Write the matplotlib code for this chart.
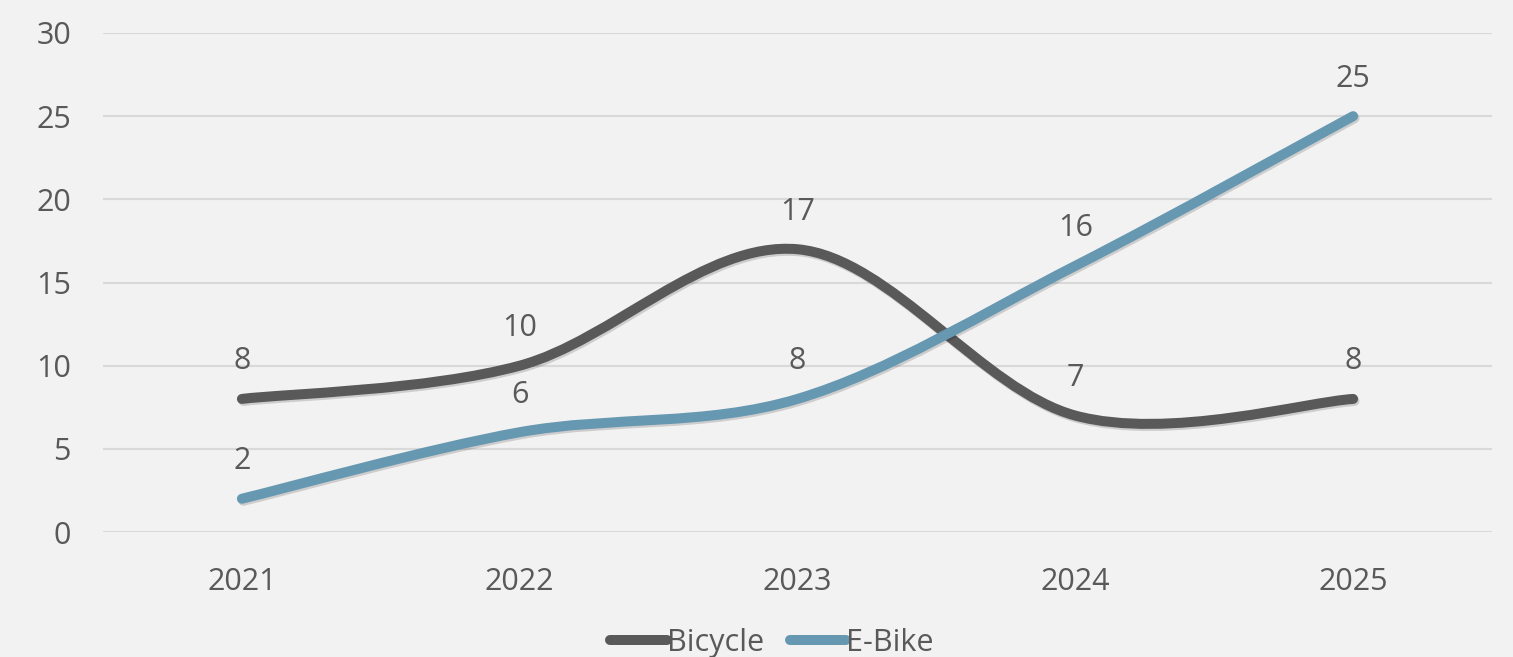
import matplotlib
matplotlib.use("Agg")
import matplotlib.pyplot as plt
import matplotlib.patheffects as pe
from matplotlib.path import Path
from matplotlib.patches import PathPatch
from matplotlib.lines import Line2D
import numpy as np

years = ["2021", "2022", "2023", "2024", "2025"]
bicycle = [8, 10, 17, 7, 8]
ebike = [2, 6, 8, 16, 25]

c_bike = "#595959"
c_ebike = "#6798B1"
c_text = "#595959"

plt.rcParams["font.family"] = ["Open Sans", "DejaVu Sans"]

fig = plt.figure(figsize=(15.13, 6.57), dpi=100, facecolor="#F2F2F2")
ax = fig.add_axes([103 / 1513, 125 / 657, (1492 - 103) / 1513, (532 - 33) / 657])
ax.set_facecolor("#F2F2F2")


def smooth_path(ys):
    # excel style smoothed line: cubic bezier through points
    xs = np.arange(len(ys), dtype=float)
    ys = np.asarray(ys, dtype=float)
    pts = np.column_stack([xs, ys])
    verts = [pts[0]]
    codes = [Path.MOVETO]
    n = len(pts)
    for i in range(n - 1):
        p0 = pts[max(i - 1, 0)]
        p1 = pts[i]
        p2 = pts[i + 1]
        p3 = pts[min(i + 2, n - 1)]
        c1 = p1 + (p2 - p0) / 6
        c2 = p2 - (p3 - p1) / 6
        verts += [c1, c2, p2]
        codes += [Path.CURVE4] * 3
    return Path(verts, codes)


shadow = [pe.SimpleLineShadow(offset=(1, -1.5), shadow_color="black", alpha=0.15), pe.Normal()]
for ys, col in [(bicycle, c_bike), (ebike, c_ebike)]:
    patch = PathPatch(smooth_path(ys), fill=False, edgecolor=col, lw=7.2,
                      capstyle="round", joinstyle="round", zorder=3)
    patch.set_path_effects(shadow)
    ax.add_patch(patch)
    for i, v in enumerate(ys):
        ax.annotate(str(v), (i, v), xytext=(0, 27), textcoords="offset points",
                    ha="center", va="center", fontsize=22, color=c_text, zorder=4)

ax.set_xlim(-0.5, 4.5)
ax.set_ylim(0, 30)
ax.set_yticks(range(0, 31, 5))
ax.set_xticks(range(len(years)))
ax.set_xticklabels(years)
ax.grid(axis="y", color="#D9D9D9", lw=1.5)
ax.set_axisbelow(True)
for s in ax.spines.values():
    s.set_visible(False)
ax.tick_params(length=0, labelsize=22, colors=c_text)
ax.tick_params(axis="y", pad=23)
ax.tick_params(axis="x", pad=25)

handles = [Line2D([], [], color=c_bike, lw=7.2, solid_capstyle="round"),
           Line2D([], [], color=c_ebike, lw=7.2, solid_capstyle="round")]
fig.legend(handles, ["Bicycle", "E-Bike"], loc="center", bbox_to_anchor=(772 / 1513, 1 - 643 / 657),
           ncol=2, frameon=False, fontsize=22, labelcolor=c_text, handlelength=1.85,
           handletextpad=0.0, columnspacing=0.85)

fig.savefig("out.png", dpi=100, facecolor=fig.get_facecolor())
